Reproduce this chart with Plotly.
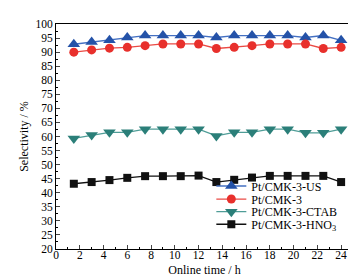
import plotly.graph_objects as go

time_h = [1.5, 3, 4.5, 6, 7.5, 9, 10.5, 12, 13.5, 15, 16.5, 18, 19.5, 21, 22.5, 24]
sel_us = [92.8, 93.6, 94.2, 95.2, 95.9, 95.9, 95.9, 95.9, 95.2, 95.9, 95.9, 95.9, 95.9, 95.2, 95.9, 94.2]
sel_cmk3 = [90.0, 90.8, 91.4, 91.7, 92.3, 92.9, 92.9, 92.9, 91.3, 91.7, 92.3, 92.9, 92.9, 92.9, 91.3, 91.7]
sel_ctab = [59.3, 60.5, 61.5, 61.5, 62.6, 62.6, 62.6, 62.6, 60.2, 61.5, 61.5, 62.6, 62.6, 61.3, 61.3, 62.6]
sel_hno3 = [43.2, 43.8, 44.5, 45.3, 45.9, 45.9, 45.9, 46.1, 43.8, 44.6, 45.4, 46.0, 46.0, 46.0, 46.0, 43.8]

names = ["Pt/CMK-3-US", "Pt/CMK-3", "Pt/CMK-3-CTAB", "Pt/CMK-3-HNO<sub>3</sub>"]
series = [sel_us, sel_cmk3, sel_ctab, sel_hno3]
colors = ["#2452a8", "#e8302c", "#2b7f79", "#111111"]
line_colors = ["#4470c2", "#ea4a44", "#4f9d97", "#111111"]
symbols = ["triangle-up", "circle", "triangle-down", "square"]
sizes = [11, 9, 11, 8]
legend_ids = ["legend", "legend2", "legend3", "legend4"]
legend_y = [0.280, 0.222, 0.166, 0.110]

FONT = "Liberation Serif, Times New Roman, serif"

fig = go.Figure()
for n, s, c, lc, sym, sz, lid in zip(names, series, colors, line_colors, symbols, sizes, legend_ids):
    fig.add_trace(go.Scatter(
        x=time_h, y=s, name=n, mode="lines+markers", legend=lid,
        line=dict(color=lc, width=1.3),
        marker=dict(symbol=sym, size=sz, color=c, line=dict(width=0)),
    ))

leg_common = dict(x=0.523, xanchor="left", yanchor="middle",
                  bgcolor="rgba(0,0,0,0)", font=dict(size=12, family=FONT),
                  itemwidth=30, borderwidth=0)
layout_legends = {lid: dict(y=ly, **leg_common) for lid, ly in zip(legend_ids, legend_y)}

fig.update_layout(
    width=356, height=276,
    margin=dict(l=48, r=10, t=11, b=34),
    paper_bgcolor="white", plot_bgcolor="white",
    font=dict(family=FONT, size=11.5, color="black"),
    showlegend=True,
    **layout_legends,
)
fig.update_xaxes(
    range=[0, 25], tick0=0, dtick=2, ticks="inside", ticklen=4,
    showline=True, linecolor="black", linewidth=1, mirror=True,
    showgrid=False, zeroline=False,
    ticklabelstandoff=-5,
    minor=dict(ticks="inside", dtick=1, ticklen=2, tickcolor="black"),
    title=dict(text="Online time / h", font=dict(size=12, family=FONT), standoff=5),
    tickfont=dict(size=11.5, family=FONT),
)
fig.update_yaxes(
    range=[20, 100], tick0=20, dtick=5, ticks="inside", ticklen=4,
    showline=True, linecolor="black", linewidth=1, mirror=True,
    showgrid=False, zeroline=False,
    minor=dict(ticks="inside", dtick=2.5, ticklen=2, tickcolor="black"),
    title=dict(text="Selectivity / %", font=dict(size=12, family=FONT), standoff=4),
    tickfont=dict(size=11.5, family=FONT),
)

fig.write_html("out.html")
